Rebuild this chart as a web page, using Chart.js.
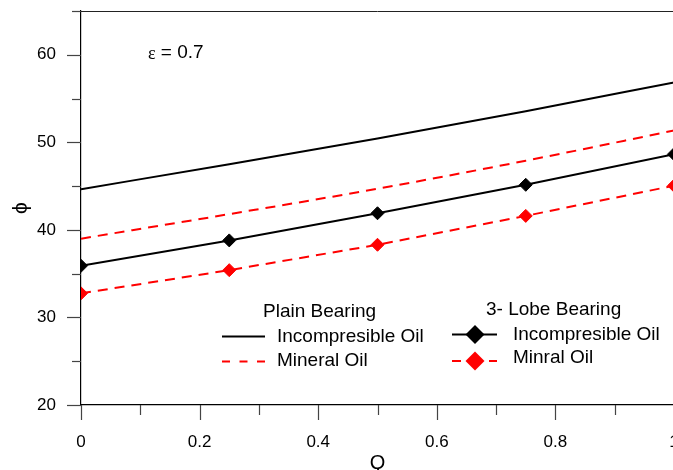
<!DOCTYPE html>
<html><head><meta charset="utf-8">
<script src="https://cdn.jsdelivr.net/npm/chart.js@4/dist/chart.umd.min.js"></script>
<style>html,body{margin:0;padding:0;background:#fff;overflow:hidden}#wrap{width:673px;height:470px;position:relative;overflow:hidden}</style>
</head><body><div id="wrap"><canvas id="c" width="674" height="470"></canvas></div>
<script>
const Q = [0, 0.25, 0.5, 0.75, 1];
const plainIncomp = [44.65, 47.5, 50.45, 53.55, 56.85];
const plainMineral = [39.0, 41.8, 44.7, 47.9, 51.35];
const lobeIncomp = [35.9, 38.8, 41.9, 45.15, 48.65];
const lobeMineral = [32.75, 35.4, 38.3, 41.6, 45.05];
const xTickLabels = [0, 0.2, 0.4, 0.6, 0.8, 1];
const yTickLabels = [20, 30, 40, 50, 60];
const epsSymbol = 'ε';
const epsValue = ' = 0.7';
const xTitle = 'Q';
const yTitle = 'ϕ';

const pts = arr => Q.map((q, i) => ({x: q, y: arr[i]}));
const FONT = '"Liberation Sans", Arial, sans-serif';

const decor = {
  id: 'decor',
  afterDraw(chart) {
    const ctx = chart.ctx, a = chart.chartArea;
    const xs = chart.scales.x, ys = chart.scales.y;
    ctx.save();
    // tick marks
    ctx.strokeStyle = '#444'; ctx.lineWidth = 1.2;
    for (let v = 20; v <= 65; v += 5) {
      const p = Math.round(ys.getPixelForValue(v)) + 0.5;
      const len = (v % 10 === 0) ? 14 : 9;
      ctx.beginPath(); ctx.moveTo(a.left - len, p); ctx.lineTo(a.left, p); ctx.stroke();
    }
    for (let i = 0; i <= 10; i++) {
      const v = i / 10;
      const p = Math.round(xs.getPixelForValue(v)) + 0.5;
      const len = (i % 2 === 0) ? 15 : 10;
      ctx.beginPath(); ctx.moveTo(p, a.bottom); ctx.lineTo(p, a.bottom + len); ctx.stroke();
    }
    // top border
    ctx.strokeStyle = '#222'; ctx.lineWidth = 1;
    const tp = Math.round(ys.getPixelForValue(65)) + 0.5;
    ctx.beginPath(); ctx.moveTo(a.left, tp); ctx.lineTo(a.right, tp); ctx.stroke();

    ctx.fillStyle = '#000';
    ctx.textBaseline = 'middle'; ctx.textAlign = 'left';
    // epsilon label
    ctx.font = '18px "Liberation Serif", serif';
    ctx.fillText(epsSymbol, 148, 54);
    const ew = ctx.measureText(epsSymbol).width;
    ctx.font = '19px ' + FONT;
    ctx.fillText(epsValue, 148 + ew, 53);
    // axis titles
    ctx.textAlign = 'center';
    ctx.font = '20px ' + FONT;
    ctx.fillText(xTitle, (a.left + a.right) / 2, 463);
    ctx.save();
    ctx.translate(21, 208);
    ctx.rotate(-Math.PI / 2);
    ctx.font = '21px "Liberation Sans", "DejaVu Sans", sans-serif';
    ctx.fillText(yTitle, 0, 0);
    ctx.restore();

    // legend
    ctx.textAlign = 'left';
    ctx.font = '19px ' + FONT;
    ctx.fillText('Plain Bearing', 263, 312);
    ctx.fillText('Incompresible Oil', 277, 337);
    ctx.fillText('Mineral Oil', 277, 361);
    ctx.fillText('3- Lobe Bearing', 486, 310);
    ctx.fillText('Incompresible Oil', 513, 335);
    ctx.fillText('Minral Oil', 513, 358);

    ctx.lineWidth = 2;
    ctx.strokeStyle = '#000';
    ctx.beginPath(); ctx.moveTo(222, 336.5); ctx.lineTo(265, 336.5); ctx.stroke();
    ctx.strokeStyle = '#ff0000';
    ctx.setLineDash([8, 9.5]);
    ctx.beginPath(); ctx.moveTo(222, 361.5); ctx.lineTo(266, 361.5); ctx.stroke();
    ctx.setLineDash([]);
    ctx.strokeStyle = '#000';
    ctx.beginPath(); ctx.moveTo(452, 334.5); ctx.lineTo(497, 334.5); ctx.stroke();
    const diamond = (cx, cy, r, col) => {
      ctx.fillStyle = col;
      ctx.beginPath(); ctx.moveTo(cx - r, cy); ctx.lineTo(cx, cy - r); ctx.lineTo(cx + r, cy); ctx.lineTo(cx, cy + r); ctx.closePath(); ctx.fill();
    };
    diamond(475, 334.5, 9.5, '#000');
    ctx.strokeStyle = '#ff0000';
    ctx.beginPath(); ctx.moveTo(452, 361); ctx.lineTo(461, 361); ctx.moveTo(489, 361); ctx.lineTo(497, 361); ctx.stroke();
    diamond(475, 361, 9.5, '#ff0000');
    ctx.restore();
  }
};

new Chart(document.getElementById('c'), {
  type: 'line',
  data: {
    datasets: [
      {label: 'Plain Incompresible Oil', data: pts(plainIncomp), borderColor: '#000', borderWidth: 2, pointRadius: 0, cubicInterpolationMode: 'monotone'},
      {label: 'Plain Mineral Oil', data: pts(plainMineral), borderColor: '#ff0000', borderWidth: 2, borderDash: [10, 7], pointRadius: 0, cubicInterpolationMode: 'monotone'},
      {label: '3-Lobe Incompresible Oil', data: pts(lobeIncomp), borderColor: '#000', backgroundColor: '#000', borderWidth: 2, pointStyle: 'rectRot', pointRadius: 6.5, pointBorderWidth: 1, tension: 0},
      {label: '3-Lobe Minral Oil', data: pts(lobeMineral), borderColor: '#ff0000', backgroundColor: '#ff0000', borderWidth: 2, borderDash: [10, 7], pointStyle: 'rectRot', pointRadius: 6.5, pointBorderWidth: 1, tension: 0}
    ]
  },
  options: {
    responsive: false,
    animation: false,
    devicePixelRatio: 1,
    layout: {autoPadding: false, padding: {top: 11, right: 0, left: 0, bottom: 0}},
    plugins: {legend: {display: false}, tooltip: {enabled: false}},
    scales: {
      x: {
        type: 'linear', min: 0, max: 1,
        grid: {display: false, drawTicks: false},
        border: {display: true, color: '#000', width: 1.2},
        ticks: {
          stepSize: 0.1, autoSkip: false, maxRotation: 0, padding: 27, color: '#000',
          font: {family: FONT, size: 17},
          callback: v => {
            const m = xTickLabels.find(t => Math.abs(t - v) < 1e-6);
            return m === undefined ? '' : String(m);
          }
        },
        afterFit: s => { s.height = 65; s.paddingLeft = 0; s.paddingRight = 0; }
      },
      y: {
        min: 20, max: 65,
        grid: {display: false, drawTicks: false},
        border: {display: true, color: '#000', width: 1.2},
        ticks: {
          stepSize: 5, autoSkip: false, padding: 25, color: '#000',
          font: {family: FONT, size: 17},
          callback: v => yTickLabels.includes(v) ? String(v) : ''
        },
        afterFit: s => { s.width = 81; s.paddingTop = 0; s.paddingBottom = 0; }
      }
    }
  },
  plugins: [decor]
});
</script>
</body></html>
